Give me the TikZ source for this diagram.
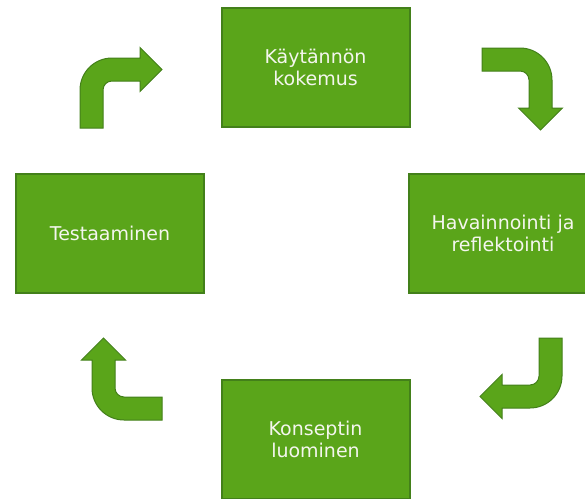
\documentclass[tikz,border=0pt]{standalone}
\usepackage{fontspec}
\setmainfont{DejaVu Sans}
\definecolor{leaf}{HTML}{5AA51A}
\definecolor{leafdark}{HTML}{43801A}
\definecolor{paper}{HTML}{F4F6EE}
\tikzset{
  stagebox/.style={draw=leafdark, line width=2pt, fill=leaf, text=paper,
    minimum width=188pt, minimum height=119pt, align=center,
    font=\fontsize{19}{22.5}\selectfont},
  % bent arrow: outer corner at the origin, tail leg pointing down, head pointing right
  pics/bentarrow/.style={code={
    \draw[draw=leafdark, line width=1pt, fill=leaf, line join=miter]
      (0,-70) -- (0,-32) arc[start angle=180, end angle=90, radius=32]
      -- (60,0) -- (60,10.5) -- (82,-11.5) -- (60,-33.5) -- (60,-23)
      -- (32,-23) arc[start angle=90, end angle=180, radius=9]
      -- (23,-70) -- cycle;
  }}
}
\begin{document}
\begin{tikzpicture}[x=1pt, y=1pt]
  \clip (0,0) rectangle (585,-498);
  \fill[white] (0,0) rectangle (585,-498);

  % the four stages of the cycle
  \node[stagebox] (kokemus)   at (315.5,-67.5)  {Käytännön\\kokemus};
  \node[stagebox] (havainto)  at (503,-233.5)   {Havainnointi ja\\reflektointi};
  \node[stagebox] (konsepti)  at (315.5,-439.5) {Konseptin\\luominen};
  \node[stagebox] (testaus)   at (110,-233.5)   {Testaaminen};

  % bent arrows turning clockwise between the stages
  \pic[rotate=0]   at (80,-58)   {bentarrow};
  \pic[rotate=-90] at (552,-48)  {bentarrow};
  \pic[rotate=180] at (562,-408) {bentarrow};
  \pic[rotate=90]  at (92,-420)  {bentarrow};
\end{tikzpicture}
\end{document}
